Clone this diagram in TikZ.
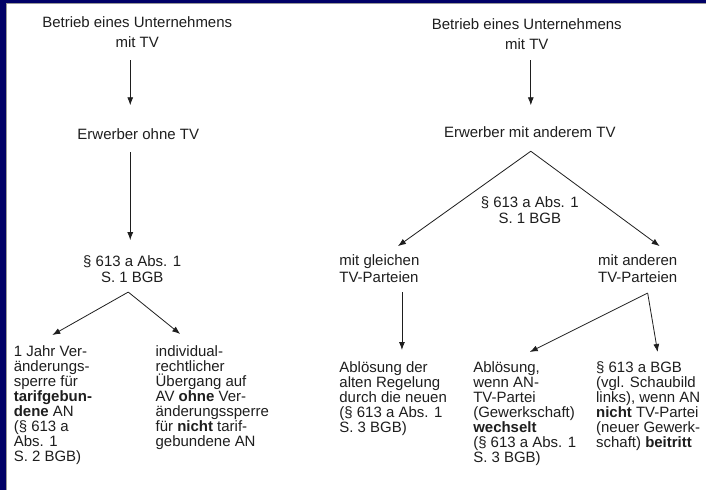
\documentclass[tikz,border=0pt]{standalone}
\usepackage{fontspec}
\setmainfont{Liberation Sans}
\usetikzlibrary{arrows.meta}

\definecolor{frameblue}{RGB}{0,0,102}
\definecolor{inkgray}{RGB}{30,30,30}

\tikzset{
  head/.style={anchor=north,inner sep=0pt,align=center,font=\fontsize{15}{19.5}\selectfont},
  para/.style={anchor=north,inner sep=0pt,align=center,font=\fontsize{15}{16.5}\selectfont},
  side/.style={anchor=north west,inner sep=0pt,align=left,font=\fontsize{15}{17}\selectfont},
  leaf/.style={anchor=north west,inner sep=0pt,align=left,font=\fontsize{15}{15}\selectfont},
}

\begin{document}
\begin{tikzpicture}[x=1pt,y=-1pt,text=inkgray,every path/.style={draw=inkgray,line width=0.8pt},>={Latex[length=8pt,width=6pt]}]
%[inner sep=1mm]
\useasboundingbox (0,0) rectangle (706,490);
\fill [frameblue,draw=none] (0,0) rectangle (706,490);
\fill [black!40,draw=none] (6,3) rectangle (706,490);
\fill [white,draw=none] (7,4) rectangle (706,490);

% ohne TV
\path (137,16) node (bl) [head] {Betrieb eines Unternehmens\\mit TV};
\path (138,128) node (el) [head] {Erwerber ohne TV};
\path (132,255) node (pl) [para] {\S~613 a Abs. 1\\S. 1 BGB};
\path (13,345) node (jahr) [leaf] {1 Jahr Ver-\\änderungs-\\sperre für\\\textbf{tarifgebun-}\\\textbf{dene} AN\\(\S~613 a\\Abs. 1\\S. 2 BGB)};
\path (155,345) node (indiv) [leaf] {individual-\\rechtlicher\\Übergang auf\\AV \textbf{ohne} Ver-\\änderungssperre\\für \textbf{nicht} tarif-\\gebundene AN};

% mit anderem TV
\path (527,18) node (br) [head] {Betrieb eines Unternehmens\\mit TV};
\path (530,126) node (er) [head] {Erwerber mit anderem TV};
\path (530,196) node (pr) [para] {\S~613 a Abs. 1\\S. 1 BGB};
\path (339,254) node (gleich) [side] {mit gleichen\\TV-Parteien};
\path (598,254) node (ander) [side] {mit anderen\\TV-Parteien};
\path (339,361) node (abl) [leaf] {Ablösung der\\alten Regelung\\durch die neuen\\(\S~613 a Abs. 1\\S. 3 BGB)};
\path (473,361) node (wech) [leaf] {Ablösung,\\wenn AN-\\TV-Partei\\(Gewerkschaft)\\\textbf{wechselt}\\(\S~613 a Abs. 1\\S. 3 BGB)};
\path (596,361) node (beit) [leaf] {\S~613 a BGB\\(vgl. Schaubild\\links), wenn AN\\\textbf{nicht} TV-Partei\\(neuer Gewerk-\\schaft) \textbf{beitritt}};

\draw [->] ([shift={(-7,44)}]bl.north) to ([shift={(-8,-23)}]el.north);
\draw [->] ([shift={(-8,24)}]el.north) to ([shift={(-2,-15)}]pl.north);
\draw [->] ([shift={(-4,37)}]pl.north) to ([shift={(39,-10)}]jahr.north west);
\draw [->] ([shift={(-4,37)}]pl.north) to ([shift={(25,-11)}]indiv.north west);

\draw [->] ([shift={(4,42)}]br.north) to ([shift={(1,-21)}]er.north);
\draw [->] ([shift={(1,25)}]er.north) to ([shift={(59,-8)}]gleich.north west);
\draw [->] ([shift={(1,25)}]er.north) to ([shift={(62,-8)}]ander.north west);
\draw [->] ([shift={(63,38)}]gleich.north west) to ([shift={(63,-11)}]abl.north west);
\draw [->] ([shift={(50,39)}]ander.north west) to ([shift={(57,-9)}]wech.north west);
\draw [->] ([shift={(50,39)}]ander.north west) to ([shift={(62,-9)}]beit.north west);
\end{tikzpicture}
\end{document}
